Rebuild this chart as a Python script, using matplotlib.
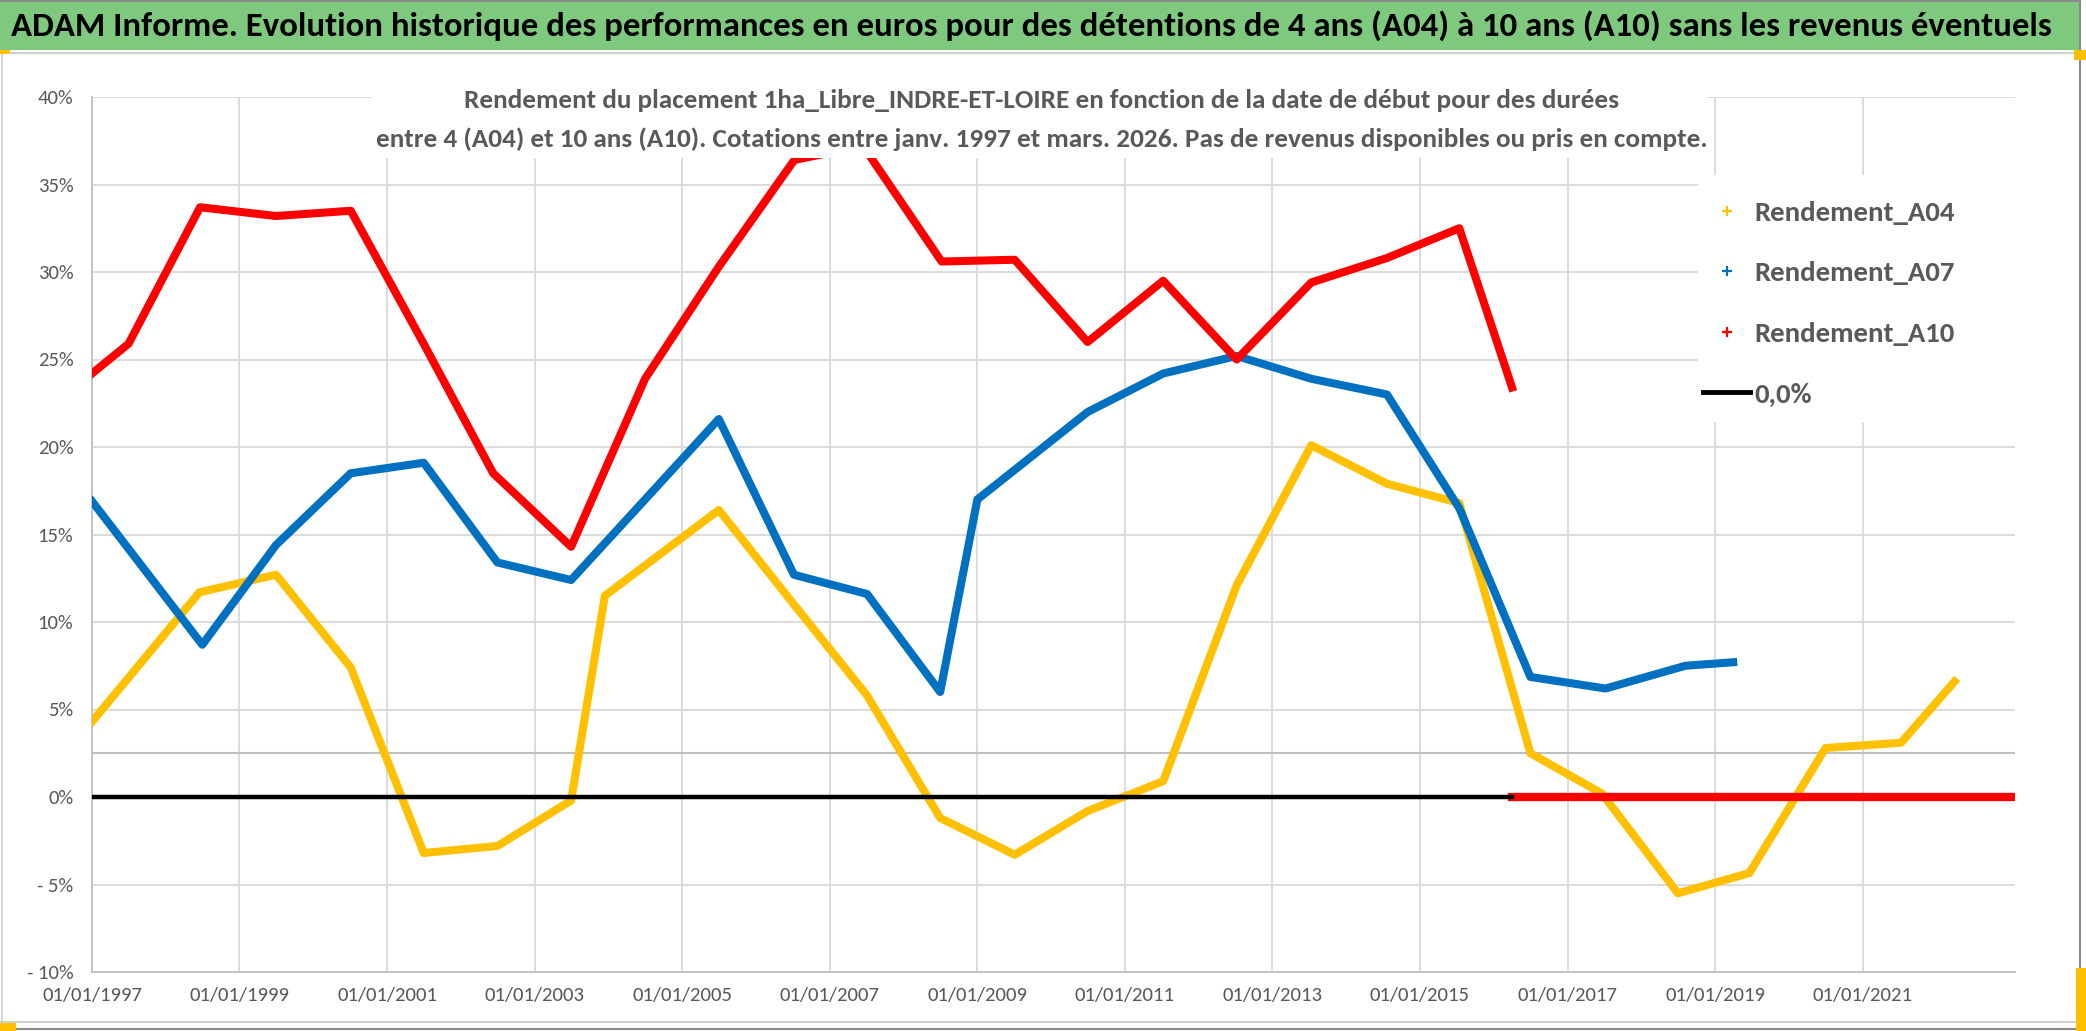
"""
Rendement 1ha_Libre_INDRE-ET-LOIRE : A04 / A07 / A10 (ADAM Informe)
Valeurs lues sur le graphique d'origine ; modifier les listes ci-dessous.
"""
import matplotlib

matplotlib.use("Agg")
import matplotlib.dates as mdates
import matplotlib.pyplot as plt
import pandas as pd
from matplotlib import font_manager
from matplotlib.lines import Line2D
from matplotlib.patches import Rectangle
from matplotlib.ticker import FuncFormatter

W, H, DPI = 2086, 1031, 100

TITLE = ("ADAM Informe. Evolution historique des performances en euros pour des "
         "détentions de 4 ans (A04) à 10 ans (A10) sans les revenus éventuels")
SUBTITLE = [
    "Rendement du placement 1ha_Libre_INDRE-ET-LOIRE en fonction de la date de début pour des durées",
    "entre 4 (A04) et 10 ans (A10). Cotations entre janv. 1997 et mars. 2026. "
    "Pas de revenus disponibles ou pris en compte.",
]

# rendement (%) par date de début
A04_DATES = ["1997-01-01", "1998-06-17", "1999-07-01", "2000-07-05", "2001-07-01",
             "2002-07-01", "2003-07-01", "2003-12-15", "2005-07-01", "2006-07-08",
             "2007-07-05", "2008-07-01", "2009-07-05", "2010-07-01", "2011-07-10",
             "2012-07-08", "2013-07-12", "2014-07-22", "2015-07-15", "2016-07-01",
             "2017-06-20", "2018-07-01", "2019-06-20", "2020-07-01", "2021-07-10",
             "2022-04-01"]
A04_VALUES = [4.3, 11.7, 12.7, 7.4, -3.2, -2.8, -0.2, 11.5, 16.4, 11.0,
              5.8, -1.2, -3.3, -0.8, 0.9, 12.1, 20.1, 17.9, 16.8, 2.5,
              0.2, -5.5, -4.35, 2.8, 3.1, 6.6]

A07_DATES = ["1997-01-01", "1998-07-01", "1999-07-01", "2000-07-05", "2001-07-01",
             "2002-07-01", "2003-07-01", "2004-07-01", "2005-07-01", "2006-07-08",
             "2007-07-05", "2008-07-01", "2009-01-01", "2010-07-01", "2011-07-10",
             "2012-07-08", "2013-07-12", "2014-07-22", "2015-07-15", "2016-07-01",
             "2017-07-08", "2018-08-07", "2019-04-01"]
A07_VALUES = [16.9, 8.7, 14.4, 18.5, 19.1, 13.4, 12.4, 17.0, 21.6, 12.7,
              11.6, 6.0, 17.0, 22.0, 24.2, 25.2, 23.9, 23.0, 16.5, 6.86,
              6.2, 7.5, 7.7]

A10_DATES = ["1997-01-01", "1997-07-01", "1998-06-20", "1999-07-01", "2000-07-05",
             "2001-07-01", "2002-06-10", "2003-07-01", "2004-07-01", "2005-07-01",
             "2006-07-10", "2007-06-15", "2008-07-08", "2009-07-05", "2010-07-01",
             "2011-07-10", "2012-07-08", "2013-07-12", "2014-07-22", "2015-07-15",
             "2016-04-01"]
A10_VALUES = [24.2, 25.9, 33.7, 33.2, 33.5, 25.9, 18.5, 14.3, 23.9, 30.3,
              36.4, 37.2, 30.6, 30.7, 26.0, 29.5, 25.0, 29.4, 30.8, 32.5,
              23.4]
# A10 sans cotation -> affiché à 0
A10_ZERO_DATES = ["2016-04-01", "2023-06-01"]
A10_ZERO_VALUES = [0.0, 0.0]

ZERO_DATES = ["1997-01-01", "2016-04-01"]
ZERO_VALUES = [0.0, 0.0]

REF_LEVEL = 2.5
TICK_DATES = [f"{y}-01-01" for y in range(1997, 2022, 2)]
Y_TICKS = list(range(-10, 41, 5))

LABELS = ["Rendement_A04", "Rendement_A07", "Rendement_A10", "0,0%"]
COLORS = ["#FFC000", "#0070C0", "#FF0000", "#000000"]
TEXT_GREY = "#595959"
GRID_GREY = "#d9d9d9"
BAR_GREEN = "#7fc97f"


def pick_font(cands):
    names = {f.name for f in font_manager.fontManager.ttflist}
    for c in cands:
        if c in names:
            return c
    return "DejaVu Sans"


FONT = pick_font(["Carlito", "Liberation Sans Narrow", "Open Sans", "Noto Sans"])
plt.rcParams["font.family"] = [FONT, "DejaVu Sans"]


def fx(px):
    return px / W


def fy(py):
    return 1 - py / H


def text_size_for(fig, s, width_px, weight="normal"):
    r = fig.canvas.get_renderer()
    t = fig.text(0, 0, s, fontsize=20, fontweight=weight)
    bb = t.get_window_extent(r)
    t.remove()
    return 20 * width_px / bb.width, bb.height * width_px / bb.width


def pct(v, _):
    return f"{v:.0f}%" if v >= 0 else f"- {abs(v):.0f}%"


def main():
    fig = plt.figure(figsize=(W / DPI, H / DPI), dpi=DPI)
    fig.patch.set_facecolor("white")

    # cadre / bandeau titre
    fig.add_artist(Rectangle((0, fy(50)), fx(2080), 50 / H, transform=fig.transFigure,
                             facecolor=BAR_GREEN, edgecolor="none", zorder=1))
    for y0, col in [(1, "#8a8a8a"), (53, "#d0d0d0"), (1022, "#d0d0d0"), (1029, "#8a8a8a")]:
        fig.add_artist(Line2D([0, fx(2080)], [fy(y0), fy(y0)], transform=fig.transFigure,
                              color=col, lw=1.5, zorder=2))
    fig.add_artist(Line2D([fx(2080), fx(2080)], [0, 1], transform=fig.transFigure,
                          color="#8a8a8a", lw=1.5, zorder=2))
    fig.add_artist(Line2D([fx(2), fx(2)], [fy(53), fy(1022)], transform=fig.transFigure,
                          color="#d0d0d0", lw=1.2, zorder=2))
    for x0, y0, w, h in [(0, 1023, 16, 8), (0, 50, 10, 4), (2076, 968, 10, 63), (2074, 50, 12, 10)]:
        fig.add_artist(Rectangle((fx(x0), fy(y0 + h)), w / W, h / H, transform=fig.transFigure,
                                 facecolor="#FFC000", edgecolor="none", zorder=3))

    fs_title, _ = text_size_for(fig, TITLE, 2039, "bold")
    fig.text(fx(11), fy(26), TITLE, ha="left", va="center", fontsize=fs_title,
             fontweight="bold", color="black", zorder=4)

    ax = fig.add_axes([fx(92), 1 - 972 / H, (2015 - 92) / W, (972 - 97) / H])
    ax.set_facecolor("white")

    fs_tick, _ = text_size_for(fig, "01/01/1997", 100)

    ax.plot(pd.to_datetime(A04_DATES), A04_VALUES, color=COLORS[0], lw=5.8,
            solid_joinstyle="round", zorder=3)
    ax.plot(pd.to_datetime(A07_DATES), A07_VALUES, color=COLORS[1], lw=5.8,
            solid_joinstyle="round", zorder=4)
    ax.plot(pd.to_datetime(A10_DATES), A10_VALUES, color=COLORS[2], lw=5.8,
            solid_joinstyle="round", zorder=5)
    ax.plot(pd.to_datetime(A10_ZERO_DATES), A10_ZERO_VALUES, color=COLORS[2], lw=6,
            zorder=5)
    ax.plot(pd.to_datetime(ZERO_DATES), ZERO_VALUES, color=COLORS[3], lw=3.2, zorder=6)
    ax.axhline(REF_LEVEL, color="#bfbfbf", lw=1.5, zorder=1)

    ax.set_xlim(pd.Timestamp("1997-01-01"), pd.Timestamp("2023-01-25"))
    ax.set_ylim(-10, 40)
    ax.set_xticks(pd.to_datetime(TICK_DATES))
    ax.xaxis.set_major_formatter(mdates.DateFormatter("%d/%m/%Y"))
    ax.set_yticks(Y_TICKS)
    ax.yaxis.set_major_formatter(FuncFormatter(pct))
    ax.grid(True, color=GRID_GREY, lw=1.3, zorder=0)
    ax.set_axisbelow(True)
    ax.tick_params(length=0, labelsize=fs_tick, labelcolor=TEXT_GREY)
    ax.tick_params(axis="y", pad=13.5)
    ax.tick_params(axis="x", pad=10.5)
    for side in ["top", "right"]:
        ax.spines[side].set_visible(False)
    for side in ["left", "bottom"]:
        ax.spines[side].set_color("#bfbfbf")
        ax.spines[side].set_linewidth(1.3)

    # sous-titre sur fond blanc
    fig.add_artist(Rectangle((fx(372), fy(158)), (1707 - 372) / W, (158 - 70) / H,
                             transform=fig.transFigure, facecolor="white",
                             edgecolor="none", zorder=5))
    fs_sub, _ = text_size_for(fig, SUBTITLE[1], 1333, "bold")
    for s, yy in zip(SUBTITLE, [100, 139]):
        fig.text(fx(1042), fy(yy), s, ha="center", va="center", fontsize=fs_sub,
                 fontweight="bold", color=TEXT_GREY, zorder=6)

    # légende
    fig.add_artist(Rectangle((fx(1698), fy(422)), (2015 - 1698) / W, (422 - 175) / H,
                             transform=fig.transFigure, facecolor="white",
                             edgecolor="none", zorder=5))
    fs_leg, h_leg = text_size_for(fig, LABELS[0], 200, "bold")
    f_px = fs_leg * DPI / 72
    handles = [Line2D([], [], color=c, marker="+", ls="none", ms=7, mew=1.6)
               for c in COLORS[:3]]
    handles.append(Line2D([], [], color=COLORS[3], lw=3.5))
    leg = fig.legend(handles, LABELS, loc="upper left",
                     bbox_to_anchor=(fx(1703), fy(213 - h_leg / 2)),
                     frameon=False, borderpad=0, borderaxespad=0,
                     handlelength=47 / f_px, handletextpad=4 / f_px,
                     labelspacing=(61.3 - h_leg) / f_px,
                     prop={"size": fs_leg, "weight": "bold"})
    for t in leg.get_texts():
        t.set_color(TEXT_GREY)
    leg.set_zorder(7)

    fig.savefig("out.png", dpi=DPI)
    plt.close(fig)


if __name__ == "__main__":
    main()
